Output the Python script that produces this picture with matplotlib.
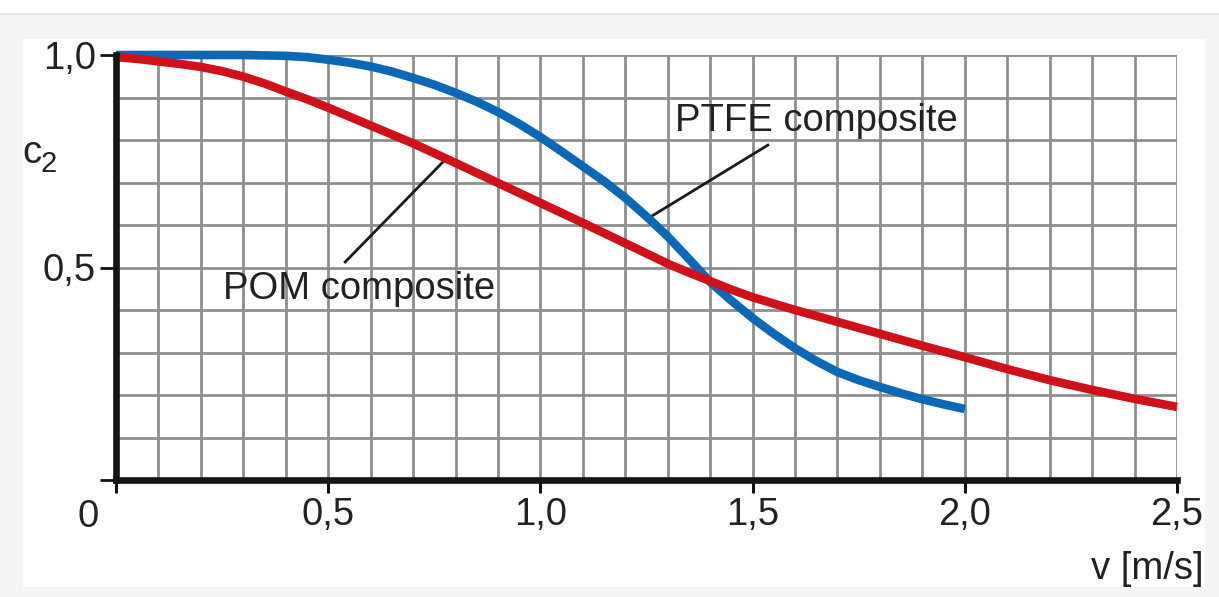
import numpy as np
import matplotlib
matplotlib.use("Agg")
import matplotlib.pyplot as plt
from matplotlib.patches import Rectangle
from matplotlib.lines import Line2D

plt.rcParams['font.family'] = ['Liberation Sans', 'DejaVu Sans']

# ---- data ----
ptfe_v = [0.0, 0.1, 0.2, 0.3, 0.4, 0.45, 0.5, 0.55, 0.6, 0.65, 0.7, 0.75, 0.8,
          0.85, 0.9, 0.95, 1.0, 1.05, 1.1, 1.15, 1.2, 1.25, 1.3, 1.35, 1.4,
          1.45, 1.5, 1.55, 1.6, 1.65, 1.7, 1.75, 1.8, 1.85, 1.9, 1.95, 2.0]
ptfe_c = [1.0, 1.0, 1.0, 1.0, 0.998, 0.995, 0.989, 0.982, 0.973, 0.961, 0.946,
          0.930, 0.911, 0.890, 0.866, 0.838, 0.807, 0.773, 0.738, 0.703, 0.664,
          0.620, 0.573, 0.520, 0.466, 0.422, 0.381, 0.344, 0.310, 0.280, 0.254,
          0.235, 0.219, 0.204, 0.190, 0.178, 0.167]

pom_v = [0.0, 0.05, 0.1, 0.15, 0.2, 0.25, 0.3, 0.35, 0.4, 0.45, 0.5, 0.55, 0.6,
         0.7, 0.8, 0.9, 1.0, 1.1, 1.2, 1.3, 1.35, 1.4, 1.45, 1.5, 1.6, 1.7,
         1.8, 1.9, 2.0, 2.1, 2.2, 2.3, 2.4, 2.5]
pom_c = [0.995, 0.991, 0.985, 0.979, 0.972, 0.962, 0.949, 0.933, 0.914, 0.896,
         0.876, 0.855, 0.834, 0.792, 0.746, 0.699, 0.652, 0.605, 0.557, 0.509,
         0.488, 0.468, 0.448, 0.430, 0.400, 0.372, 0.344, 0.316, 0.289, 0.261,
         0.235, 0.212, 0.191, 0.172]

x_major = [0.0, 0.5, 1.0, 1.5, 2.0, 2.5]
x_labels = ['', '0,5', '1,0', '1,5', '2,0', '2,5']
y_major = [0.0, 0.5, 1.0]
y_labels = ['', '0,5', '1,0']

W, H = 1219, 597
FS = 27.5
TXT = '#222222'
fig = plt.figure(figsize=(W / 100, H / 100), dpi=100, facecolor='#f4f5f5')

# page decorations
fig.patches.append(Rectangle((0, 1 - 13 / H), 1, 13 / H, transform=fig.transFigure,
                             facecolor='white', edgecolor='none', zorder=-10))
fig.add_artist(Line2D([0, 1], [1 - 13.5 / H] * 2, transform=fig.transFigure,
                      color='#e2e5ea', lw=1.2, zorder=-9))
fig.patches.append(Rectangle((23 / W, 1 - 587 / H), (1205 - 23) / W, (587 - 39) / H,
                             transform=fig.transFigure, facecolor='white',
                             edgecolor='none', zorder=-10))

ax = fig.add_axes([116 / W, 1 - 480 / H, (1177 - 116) / W, (480 - 55) / H])
ax.set_facecolor('white')
ax.set_xlim(0, 2.5)
ax.set_ylim(0, 1.0)

ax.set_xticks(x_major)
ax.set_xticklabels(x_labels)
ax.set_yticks(y_major)
ax.set_yticklabels(y_labels)
ax.set_xticks(np.round(np.arange(0, 2.51, 0.1), 2), minor=True)
ax.set_yticks(np.round(np.arange(0, 1.01, 0.1), 2), minor=True)
ax.tick_params(which='minor', length=0)
ax.tick_params(axis='x', which='major', direction='out', length=9.5, width=2.2,
               pad=3, labelsize=FS, labelcolor=TXT, color='#111111')
ax.tick_params(axis='y', which='major', direction='out', length=11.5, width=2.0,
               pad=3, labelsize=FS, labelcolor=TXT, color='#111111')
ax.grid(which='both', color='#8e8e8e', lw=2.0)
ax.set_axisbelow(True)

for s in ['top', 'right']:
    ax.spines[s].set_visible(False)
for s in ['left', 'bottom']:
    ax.spines[s].set_linewidth(4.8)
    ax.spines[s].set_color('#151515')
    ax.spines[s].set_zorder(5)

ax.plot(ptfe_v, ptfe_c, color='#0a68b6', lw=6.2, solid_capstyle='butt',
        solid_joinstyle='round', clip_on=False, zorder=4)
ax.plot(pom_v, pom_c, color='#cf111a', lw=6.2, solid_capstyle='butt',
        solid_joinstyle='round', clip_on=False, zorder=4)

# leader lines and labels
ax.plot([1.251, 1.536], [0.614, 0.788], color='#1a1a1a', lw=2.0, zorder=3)
ax.plot([0.770, 0.540], [0.748, 0.513], color='#1a1a1a', lw=2.0, zorder=3)
ax.text(1.317, 0.821, 'PTFE composite', fontsize=FS, color=TXT,
        ha='left', va='baseline', zorder=6)
ax.text(0.252, 0.426, 'POM composite', fontsize=FS, color=TXT,
        ha='left', va='baseline', zorder=6)

# extra texts
fig.text(88 / W, 1 - 517 / H, '0', fontsize=FS, color=TXT,
         ha='center', va='center')
fig.text(1204 / W, 1 - 579 / H, 'v [m/s]', fontsize=FS, color=TXT,
         ha='right', va='baseline')
fig.text(22 / W, 1 - 163 / H, 'c', fontsize=FS, color=TXT,
         ha='left', va='baseline')
fig.text(41 / W, 1 - 172 / H, '2', fontsize=21, color=TXT,
         ha='left', va='baseline')

fig.savefig('out.png', dpi=100, facecolor=fig.get_facecolor())
